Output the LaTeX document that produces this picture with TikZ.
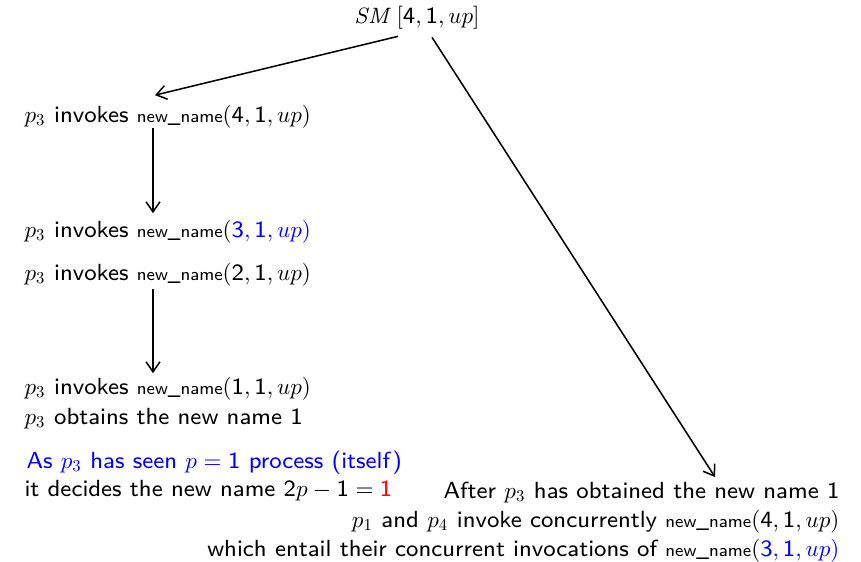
\documentclass[tikz,border=0pt]{standalone}
\usetikzlibrary{arrows.meta,calc}
\renewcommand{\familydefault}{\sfdefault}
% math letters and operators at the 10pt design, whatever the size
\DeclareFontFamily{OML}{xcmm}{\skewchar\font'177}
\DeclareFontShape{OML}{xcmm}{m}{it}{<->cmmi10}{}
\DeclareSymbolFont{letters}{OML}{xcmm}{m}{it}
\DeclareFontFamily{OT1}{xcmr}{\hyphenchar\font45 }
\DeclareFontShape{OT1}{xcmr}{m}{n}{<->cmr10}{}
\DeclareSymbolFont{operators}{OT1}{xcmr}{m}{n}
\DeclareFontFamily{OT1}{xcmss}{}
\DeclareFontShape{OT1}{xcmss}{m}{n}{<->s*[1.01]cmss8}{}
\DeclareMathAlphabet{\mathsf}{OT1}{xcmss}{m}{n}
\DeclareMathSizes{8.4}{8.3}{6}{5}
\newcommand{\nn}{{\fontsize{6.4}{8}\selectfont\sffamily new\_name}}
\newcommand{\dg}[1]{\mathsf{#1}}
\begin{document}
\begin{tikzpicture}[x=0.36pt,y=-0.36pt,
  every node/.style={font=\fontsize{8.4}{10.44}\selectfont\sffamily, inner sep=0pt},
  line/.style={line width=0.55pt},
  arr/.style={line, -{Straight Barb[length=3.6pt,width=5pt,line width=0.55pt]}}]
\useasboundingbox (0,0) rectangle (861,561);

% the state of the call tree at the top
\node[anchor=base] (sm) at (417,23) {$\mathit{SM}\,[\dg{4},\dg{1},up]$};

% left column: the recursive invocations of p3
\node[anchor=base west] (l1) at (24,122) {$p_3$ invokes \nn$(\dg{4},\dg{1},up)$};
\node[anchor=base west] (l2) at (24,237) {$p_3$ invokes \nn$(\color{blue}\dg{3},\dg{1},up)$};
\node[anchor=base west] (l3) at (24,280) {$p_3$ invokes \nn$(\dg{2},\dg{1},up)$};
\node[anchor=base west] (l4) at (24,394) {$p_3$ invokes \nn$(\dg{1},\dg{1},up)$};
\node[anchor=base west] (l5) at (24,424) {$p_3$ obtains the new name 1};
\node[anchor=base west, text=blue] (l6) at (26,468) {As $p_3$ has seen $p=\dg{1}$ process (itself)};
\node[anchor=base west] (l7) at (24,496) {it decides the new name $\dg{2}p-\dg{1}=\textcolor{red}{\dg{1}}$};

% right block: the concurrent invocations of p1 and p4
\node[anchor=north east, align=right] (r) at (840,481)
  {After $p_3$ has obtained the new name 1\\
   $p_1$ and $p_4$ invoke concurrently \nn$(\dg{4},\dg{1},up)$\\
   which entail their concurrent invocations of \nn$(\color{blue}\dg{3},\dg{1},up)$};

% connectors
\draw[arr] ($(sm.south)+(-19,7)$) -- ($(l1.north west)+(131,-9)$);
\draw[arr] ($(l1.south west)+(129,0)$) -- ($(l2.north west)+(129,-6)$);
\draw[arr] ($(l3.south west)+(129,3)$) -- ($(l4.north west)+(129,-3)$);
\draw[arr] ($(sm.south)+(15,8)$) -- ($(r.north east)+(-125,-4)$);
\end{tikzpicture}
\end{document}
